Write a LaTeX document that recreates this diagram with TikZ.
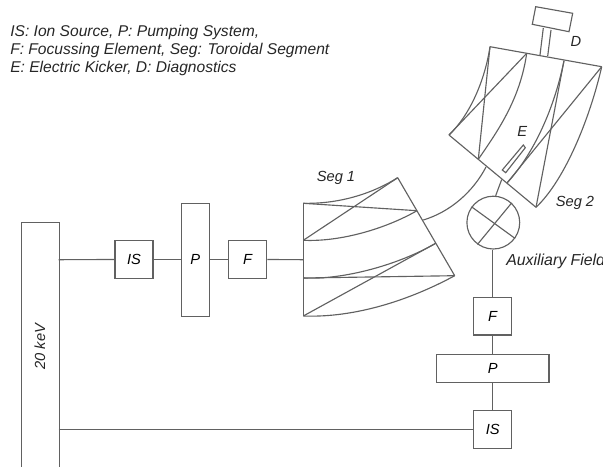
\documentclass[tikz,border=0pt]{standalone}
\usepackage{fontspec}
\setmainfont{Liberation Sans}
\tikzset{
  x=0.75pt,y=-0.75pt,
  ln/.style={draw=black!62,line width=0.85pt,line join=miter},
  boxn/.style={ln,fill=white,rectangle,inner sep=0pt,font=\fontsize{11}{13}\selectfont\itshape},
  lab/.style={inner sep=0pt,font=\fontsize{11}{13}\selectfont\itshape,text=black!85},
  legend/.style={inner sep=0pt,anchor=west,font=\fontsize{11.7}{14}\selectfont\itshape,text=black!85},
}
\begin{document}
\begin{tikzpicture}
\useasboundingbox (0,0) rectangle (603,467);
\begin{scope}
\clip (0,0) rectangle (603,467);
\node[boxn,minimum width=28.5pt,minimum height=200pt,anchor=north west] (hv) at (20.7,222) {};
\node[lab,anchor=west,font=\fontsize{11.9}{13}\selectfont\itshape] (tA) at (506,261.7) {Auxiliary Field};
\end{scope}
\node[lab,rotate=90] (hvt) at (40,346.7) {20 keV};
\node[boxn,minimum width=28.5pt,minimum height=28.2pt] (is1) at (134,259.5) {IS};
\node[boxn,minimum width=21pt,minimum height=84.8pt] (p1) at (195.3,259.8) {P};
\node[boxn,minimum width=28.5pt,minimum height=28.2pt] (f1) at (247.7,259.5) {F};
\node[boxn,minimum width=28.5pt,minimum height=28pt] (f2) at (492.7,316.3) {F};
\node[boxn,minimum width=84.5pt,minimum height=21.3pt] (p2) at (492.7,368.5) {P};
\node[boxn,minimum width=28.5pt,minimum height=28.5pt] (is2) at (492.7,429.7) {IS};
\node[circle,ln,minimum size=39.6pt,inner sep=0pt] (aux) at (493.3,222.6) {};
\coordinate (s1in) at (303.3,259.7);
\coordinate (hvA) at (58.7,259.7);
\coordinate (hvB) at (58.7,429.7);
\draw[ln] (hvA) -- (is1.west);
\draw[ln] (is1.east) -- (p1.west |- is1.east);
\draw[ln] (p1.east |- f1.west) -- (f1.west);
\draw[ln] (f1.east) -- (s1in);
\draw[ln] (hvB) -- (is2.west);
\draw[ln] (is2.north) -- (p2.south);
\draw[ln] (p2.north) -- (f2.south);
\draw[ln] (f2.north) -- (f2.north |- aux.south);
% Aux cross
\draw[ln] (aux.144) -- (aux.-36);
\draw[ln] (aux.47) -- (aux.234);
% Seg 1
\coordinate (a0) at (303.3,203.3);
\coordinate (a1) at (303.3,240.3);
\coordinate (a2) at (303.3,278);
\coordinate (a3) at (303.3,316);
\coordinate (b0) at (397.7,177.7);
\coordinate (b1) at (417,210.7);
\coordinate (b2) at (435.7,243.3);
\coordinate (b3) at (454.7,275.7);
\draw[ln] (a0) -- (a3);
\draw[ln] (b0) -- (b3);
\draw[ln] (a0) .. controls (337,204) and (370,195) .. (b0);
\draw[ln] (a1) .. controls (340,242) and (385,229) .. (b1);
\draw[ln] (a2) .. controls (345,280) and (400,264) .. (b2);
\draw[ln] (a3) .. controls (355,318) and (410,300) .. (b3);
\draw[ln] (a1) -- (b0);
\draw[ln] (a0) -- (b1);
\draw[ln] (a3) -- (b2);
\draw[ln] (a2) -- (b3);
% Beam between
\coordinate (c0) at (423.3,220);
\coordinate (c1) at (486,167);
\draw[ln] (c0) .. controls (450,212) and (473,192) .. (c1);
% Seg 2
\coordinate (d0) at (490,46.7);
\coordinate (d1) at (526.7,53.3);
\coordinate (d2) at (564,60.7);
\coordinate (d3) at (601.7,66.7);
\coordinate (e0) at (449,135);
\coordinate (e1) at (478.3,159.3);
\coordinate (e2) at (507,183);
\coordinate (e3) at (536,207.3);
\draw[ln] (d0) -- (d3);
\draw[ln] (e0) -- (e3);
\draw[ln] (e0) .. controls (470,115) and (485,80) .. (d0);
\draw[ln] (e1) .. controls (497,132) and (520,100) .. (d1);
\draw[ln] (e2) .. controls (530,158) and (553,115) .. (d2);
\draw[ln] (e3) .. controls (565,180) and (590,118) .. (d3);
\draw[ln] (e0) -- (d1);
\draw[ln] (e1) -- (d0);
\draw[ln] (e2) -- (d3);
\draw[ln] (e3) -- (d2);
% Beam into seg 2
\coordinate (g0) at (501.7,179.5);
\draw[ln] (aux.85) -- (g0);
% Kicker
\draw[ln,fill=white] (523.3,145) -- (525.3,147.7) -- (505.7,172.7) -- (502.3,170) -- cycle;
% Diagnostics
\coordinate (t0) at (543.3,28);
\coordinate (t1) at (551,30);
\coordinate (u0) at (540,55);
\coordinate (u1) at (547.7,56);
\draw[ln] (t0) -- (u0);
\draw[ln] (t1) -- (u1);
\draw[ln,fill=white] (535.7,6.7) -- (572.7,13.3) -- (569,31.7) -- (532.3,24.3) -- cycle;
% Labels
\node[lab] (tD) at (576,41) {D};
\node[lab] (tE) at (522.3,131.7) {E};
\node[lab] (tS2) at (575,202.7) {Seg 2};
\node[lab] (tS1) at (336,178) {Seg 1};
\node[legend] (l1) at (10,32) {IS: Ion Source, P: Pumping System,};
\node[legend] (l2) at (10,50) {F: Focussing Element, Seg: Toroidal Segment};
\node[legend] (l3) at (10,68) {E: Electric Kicker, D: Diagnostics};
\end{tikzpicture}
\end{document}
